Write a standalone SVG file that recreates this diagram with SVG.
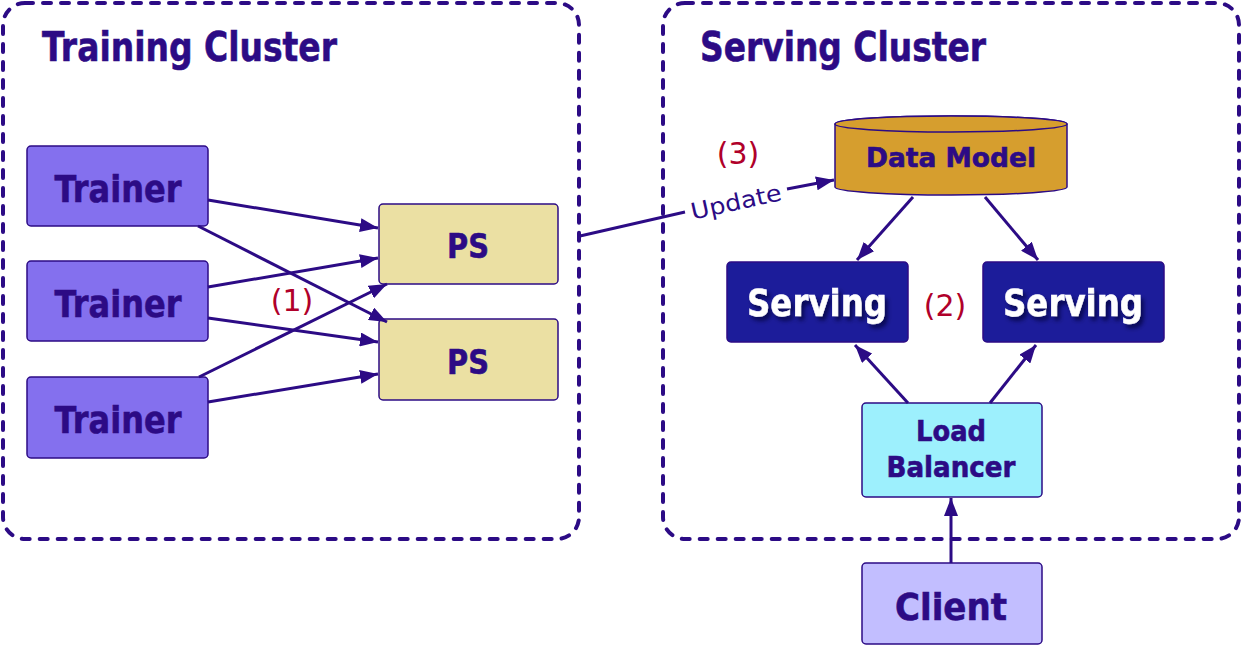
<svg xmlns="http://www.w3.org/2000/svg" width="1242" height="645" viewBox="0 0 1242 645">
<defs>
<style>
.cluster{fill:none;stroke:#2C0B85;stroke-width:4;stroke-dasharray:8 10;stroke-linecap:round}
.box{stroke:#2C0B85;stroke-width:1.5}
.lbl{font-family:"DejaVu Sans",sans-serif;font-weight:bold;fill:#2C0B85;stroke:#2C0B85;stroke-width:0.6;text-anchor:middle}
.title{font-family:"DejaVu Sans",sans-serif;font-weight:bold;fill:#2C0B85;stroke:#2C0B85;stroke-width:0.6;font-size:40px}
.num{font-family:"DejaVu Sans",sans-serif;fill:#B0002A;font-size:30px;text-anchor:middle}
.edge{stroke:#2C0B85;stroke-width:3;fill:none}
.arr{marker-end:url(#ah)}
.serv{fill:#ffffff;stroke:#ffffff;stroke-width:0.5;filter:url(#sh)}
</style>
<marker id="ah" markerUnits="userSpaceOnUse" markerWidth="19" markerHeight="14" refX="18" refY="7" orient="auto">
<path d="M0,0 L18,7 L0,14 Z" fill="#2C0B85"/>
</marker>
<filter id="sh" x="-20%" y="-30%" width="140%" height="170%">
<feDropShadow dx="3" dy="4" stdDeviation="2" flood-color="#000033" flood-opacity="0.7"/>
</filter>
</defs>

<g id="training-cluster">
<rect class="cluster" x="3" y="3" width="576" height="536" rx="22"/>
<text class="title" x="42" y="61" textLength="295" lengthAdjust="spacingAndGlyphs">Training Cluster</text>
</g>
<g id="serving-cluster">
<rect class="cluster" x="663" y="3" width="576" height="536" rx="22"/>
<text class="title" x="700" y="61" textLength="286" lengthAdjust="spacingAndGlyphs">Serving Cluster</text>
</g>

<g id="trainer1">
<rect class="box" x="27" y="146" width="181" height="80" rx="4" fill="#8470EE"/>
<text class="lbl" x="118" y="202" font-size="38" textLength="127" lengthAdjust="spacingAndGlyphs">Trainer</text>
</g>
<g id="trainer2">
<rect class="box" x="27" y="261" width="181" height="80" rx="4" fill="#8470EE"/>
<text class="lbl" x="118" y="317" font-size="38" textLength="127" lengthAdjust="spacingAndGlyphs">Trainer</text>
</g>
<g id="trainer3">
<rect class="box" x="27" y="377" width="181" height="81" rx="4" fill="#8470EE"/>
<text class="lbl" x="118" y="433" font-size="38" textLength="127" lengthAdjust="spacingAndGlyphs">Trainer</text>
</g>
<g id="ps1">
<rect class="box" x="379" y="204" width="179" height="80" rx="4" fill="#EBE0A3"/>
<text class="lbl" x="468" y="258" font-size="34" textLength="42" lengthAdjust="spacingAndGlyphs">PS</text>
</g>
<g id="ps2">
<rect class="box" x="379" y="319" width="179" height="81" rx="4" fill="#EBE0A3"/>
<text class="lbl" x="468" y="374" font-size="34" textLength="42" lengthAdjust="spacingAndGlyphs">PS</text>
</g>

<g id="data-model">
<path class="box" d="M835,124 L835,187 A116,8 0 0 0 1067,187 L1067,124 A116,8 0 0 0 835,124 Z" fill="#D69E2E"/>
<ellipse class="box" cx="951" cy="124" rx="116" ry="8" fill="#D69E2E"/>
<text class="lbl" x="951" y="167" font-size="26" textLength="170" lengthAdjust="spacingAndGlyphs">Data Model</text>
</g>
<g id="serving1">
<rect class="box" x="727" y="262" width="181" height="80" rx="4" fill="#1C1C9A"/>
<text class="lbl serv" x="817" y="316" font-size="38" textLength="140" lengthAdjust="spacingAndGlyphs">Serving</text>
</g>
<g id="serving2">
<rect class="box" x="983" y="262" width="181" height="80" rx="4" fill="#1C1C9A"/>
<text class="lbl serv" x="1073" y="316" font-size="38" textLength="140" lengthAdjust="spacingAndGlyphs">Serving</text>
</g>
<g id="load-balancer">
<rect class="box" x="862" y="403" width="180" height="94" rx="4" fill="#9DF0FD"/>
<text class="lbl" x="951" y="441" font-size="28" textLength="70" lengthAdjust="spacingAndGlyphs">Load</text>
<text class="lbl" x="951" y="477" font-size="28" textLength="129" lengthAdjust="spacingAndGlyphs">Balancer</text>
</g>
<g id="client">
<rect class="box" x="862" y="563" width="180" height="81" rx="4" fill="#C2BEFF"/>
<text class="lbl" x="951" y="620" font-size="38" textLength="112" lengthAdjust="spacingAndGlyphs">Client</text>
</g>

<g id="connectors">
<line class="edge arr" x1="208" y1="200" x2="378" y2="228"/>
<line class="edge arr" x1="198" y1="226" x2="387" y2="322"/>
<line class="edge arr" x1="208" y1="287" x2="378" y2="258"/>
<line class="edge arr" x1="208" y1="318" x2="378" y2="342"/>
<line class="edge arr" x1="199" y1="377" x2="387" y2="284"/>
<line class="edge arr" x1="208" y1="402" x2="378" y2="374"/>
<line class="edge" x1="580" y1="236" x2="685" y2="212"/>
<line class="edge arr" x1="787" y1="189" x2="834" y2="180"/>
<line class="edge arr" x1="913" y1="197" x2="857" y2="260"/>
<line class="edge arr" x1="985" y1="197" x2="1038" y2="260"/>
<line class="edge arr" x1="908" y1="403" x2="855" y2="345"/>
<line class="edge arr" x1="990" y1="403" x2="1036" y2="345"/>
<line class="edge arr" x1="951" y1="563" x2="951" y2="498"/>
<text x="0" y="8" transform="translate(736,202) rotate(-12.4)" font-family="DejaVu Sans, sans-serif" font-size="23" fill="#2C0B85" text-anchor="middle" textLength="92" lengthAdjust="spacingAndGlyphs">Update</text>
</g>

<g id="step-labels">
<text class="num" x="292" y="311">(1)</text>
<text class="num" x="945" y="316">(2)</text>
<text class="num" x="738" y="164">(3)</text>
</g>
</svg>
